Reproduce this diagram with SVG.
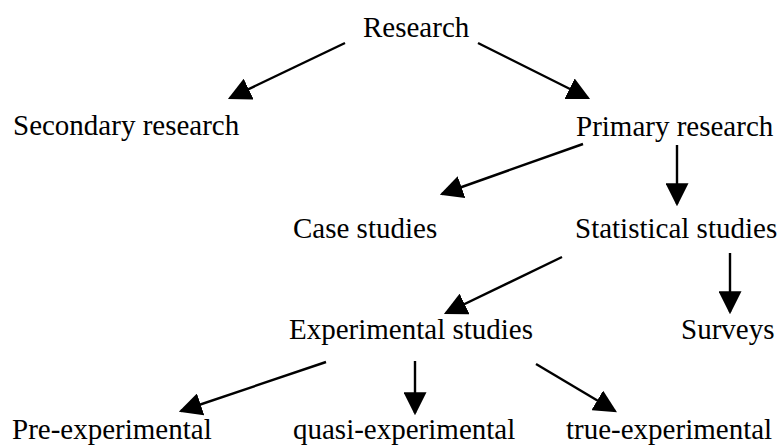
<svg xmlns="http://www.w3.org/2000/svg" width="781" height="445" viewBox="0 0 781 445">
<style>
text{font-family:"Liberation Serif","Times New Roman",serif;font-size:29px;fill:#000}
.c line{stroke:#000;stroke-width:2.4;marker-end:url(#ah)}
</style>
<defs>
<marker id="ah" viewBox="0 0 20 20" refX="18" refY="10" markerWidth="23" markerHeight="23" markerUnits="userSpaceOnUse" orient="auto">
<path d="M0,0 L20,10 L0,20 z" fill="#000"/>
</marker>
</defs>
<rect width="781" height="445" fill="#fff"/>
<g id="research"><text x="363" y="37">Research</text></g>
<g id="secondary"><text x="13" y="135">Secondary research</text></g>
<g id="primary"><text x="576" y="136">Primary research</text></g>
<g id="case"><text x="293" y="238">Case studies</text></g>
<g id="statistical"><text x="575" y="238">Statistical studies</text></g>
<g id="experimental"><text x="289" y="339">Experimental studies</text></g>
<g id="surveys"><text x="681" y="339">Surveys</text></g>
<g id="pre"><text x="12" y="439">Pre-experimental</text></g>
<g id="quasi"><text x="293" y="439">quasi-experimental</text></g>
<g id="true"><text x="566" y="439">true-experimental</text></g>
<g class="c" id="connectors">
<line x1="345" y1="43" x2="230" y2="98"/>
<line x1="478" y1="43" x2="588" y2="98"/>
<line x1="583" y1="144" x2="442" y2="194"/>
<line x1="677" y1="145" x2="677" y2="204"/>
<line x1="562" y1="257" x2="446" y2="313"/>
<line x1="730" y1="253" x2="730" y2="312"/>
<line x1="326" y1="362" x2="181" y2="411"/>
<line x1="415" y1="361" x2="415" y2="413"/>
<line x1="536" y1="364" x2="615" y2="411"/>
</g>
</svg>
